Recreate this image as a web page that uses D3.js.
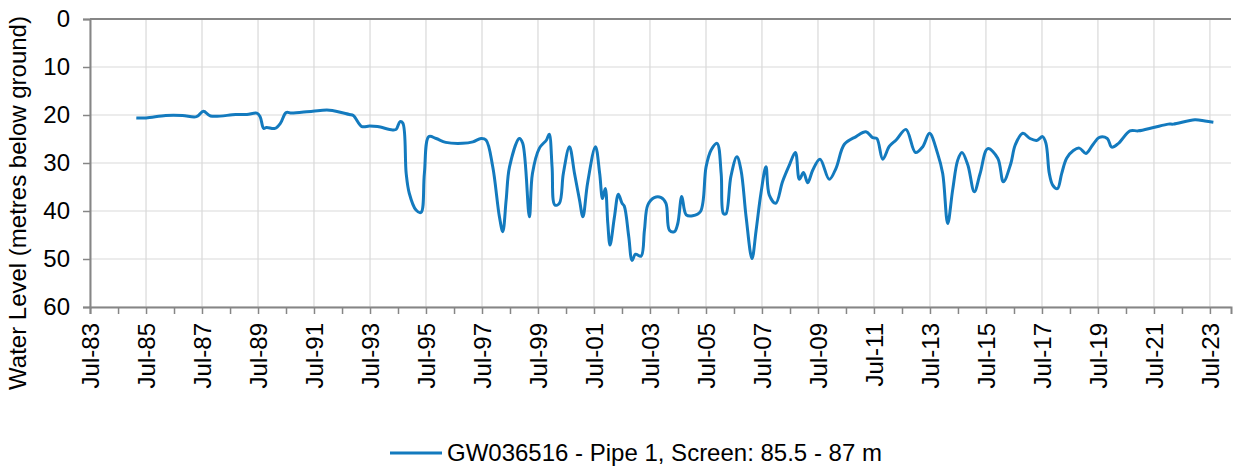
<!DOCTYPE html>
<html>
<head>
<meta charset="utf-8">
<script src="https://cdn.jsdelivr.net/npm/d3@7"></script>
<style>
  body { margin: 0; background: #fff; }
  svg text { font-family: "Liberation Sans", Arial, sans-serif; fill: #000; }
</style>
</head>
<body>
<div id="chart"></div>
<script>
// water level readings (metres below ground)
const dates = [
  "1985-02-24","1985-07-02","1986-03-15","1986-10-20","1987-04-20","1987-07-20","1987-10-20","1988-09-13",
  "1989-02-06","1989-06-14","1989-07-27","1989-09-13","1989-10-20","1990-02-06","1990-04-20","1990-07-02",
  "1990-09-13","1991-06-14","1992-01-19","1992-10-05","1992-11-25","1993-03-17","1993-06-25","1993-10-08",
  "1994-04-20","1994-06-07","1994-07-27","1994-09-02","1994-10-16","1994-11-25","1995-02-21","1995-04-27",
  "1995-06-10","1995-08-08","1995-11-10","1996-03-15","1996-10-20","1997-03-04","1997-06-18","1997-08-22",
  "1997-11-18","1998-02-13","1998-03-29","1998-05-12","1998-06-25","1998-10-31","1998-12-14","1999-03-11",
  "1999-04-20","1999-07-20","1999-10-20","1999-11-25","2000-01-01","2000-02-06","2000-04-05","2000-05-27",
  "2000-08-15","2000-10-20","2000-12-24","2001-02-06","2001-04-08","2001-07-20","2001-09-13","2001-10-20",
  "2001-11-25","2001-12-28","2002-01-26","2002-03-25","2002-05-15","2002-07-02","2002-07-31","2002-09-27",
  "2002-11-10","2002-12-24","2003-03-07","2003-04-20","2003-06-03","2003-08-26","2003-11-25","2004-01-26",
  "2004-03-11","2004-05-15","2004-06-28","2004-08-19","2004-10-16","2005-01-08","2005-04-20","2005-07-02",
  "2005-09-06","2005-11-22","2006-01-15","2006-02-13","2006-03-18","2006-05-22","2006-08-08","2006-10-01",
  "2006-12-06","2007-02-21","2007-04-16","2007-06-18","2007-08-22","2007-10-05","2007-12-28","2008-03-25",
  "2008-06-18","2008-09-09","2008-10-31","2008-12-24","2009-02-17","2009-04-23","2009-07-27","2009-11-25",
  "2010-02-21","2010-06-10","2010-11-10","2011-03-18","2011-06-14","2011-08-08","2011-10-24","2012-01-19",
  "2012-04-16","2012-08-22","2012-12-24","2013-03-29","2013-06-25","2013-10-08","2013-12-14","2014-02-17",
  "2014-04-23","2014-06-28","2014-08-22","2014-11-07","2015-01-30","2015-04-16","2015-07-24","2015-12-02",
  "2016-02-13","2016-05-19","2016-07-17","2016-10-24","2017-01-26","2017-04-23","2017-07-09","2017-08-22",
  "2017-10-05","2017-11-18","2018-01-19","2018-03-15","2018-05-19","2018-08-15","2018-10-31","2019-01-26",
  "2019-04-23","2019-07-20","2019-10-31","2019-12-28","2020-03-25","2020-08-22","2020-12-10","2021-06-25",
  "2022-01-05","2022-03-11","2022-12-17","2023-04-27","2023-08-15"
];
const levels = [
  20.6,20.6,20.1,20.1,20.35,19.2,20.2,19.9,
  19.9,19.6,20.3,22.8,22.6,22.8,21.7,19.5,
  19.6,19.2,19.0,19.9,20.1,22.4,22.3,22.4,
  23.1,23.0,21.4,21.7,32.2,36.3,39.8,40.3,
  32.2,24.5,24.9,25.7,25.9,25.6,24.9,25.2,
  30.8,41.2,44.3,37.7,30.8,24.9,25.9,41.2,
  32.2,26.9,25.2,24.0,30.8,38.75,38.4,32.2,
  26.6,32.2,37.7,41.2,34.2,26.6,32.2,37.4,
  35.3,42.6,47.1,41.2,36.5,38.4,39.0,45.3,
  50.3,49.0,49.4,44.0,38.75,37.2,37.2,38.4,
  44.0,44.3,42.6,37.0,40.8,41.0,40.1,30.8,
  27.3,25.9,32.2,40.5,40.6,32.8,28.7,31.5,
  41.2,49.9,44.0,36.3,30.8,36.7,38.4,33.9,
  30.6,27.8,33.4,32.0,34.1,31.5,29.2,33.4,
  31.1,26.1,24.5,23.5,24.7,24.9,29.2,26.5,
  25.2,23.0,27.8,26.6,23.8,28.0,32.2,42.6,
  35.6,29.4,27.8,30.4,36.0,32.2,27.0,29.0,
  33.9,30.2,26.25,23.8,24.9,25.3,24.5,25.9,
  32.2,34.6,35.35,32.2,29.0,27.4,26.9,28.0,
  26.25,24.65,24.9,26.7,25.9,23.3,23.3,22.6,
  21.9,21.9,21.0,21.25,21.5
];
const yTicks = [0, 10, 20, 30, 40, 50, 60];
const tickYears = d3.range(1983, 2024);          // a tick every July
const labelYears = d3.range(1983, 2024, 2);      // labelled every second July
const seriesName = "GW036516 - Pipe 1, Screen: 85.5 - 87 m";
const yTitle = "Water Level (metres below ground)";

const width = 1234, height = 467;
const plotLeft = 90, plotRight = 1231, plotTop = 19, plotBottom = 307;
const lineColor = "#137abe";
const axisColor = "#868686";
const gridColor = "#d9d9d9";

const parse = d3.timeParse("%Y-%m-%d");
const points = dates.map((d, i) => ({date: parse(d), level: levels[i]}));

const svg = d3.select("#chart").append("svg")
  .attr("width", width).attr("height", height)
  .style("background", "white");

const x = d3.scaleTime()
  .domain([new Date(1983, 6, 1), new Date(2024, 3, 1)])
  .range([plotLeft, plotRight]);
const y = d3.scaleLinear()
  .domain([0, 60])
  .range([plotTop, plotBottom]);

const julyOf = yr => new Date(yr, 6, 1);

// gridlines
svg.append("g").selectAll("line").data(labelYears).enter().append("line")
  .attr("x1", d => x(julyOf(d))).attr("x2", d => x(julyOf(d)))
  .attr("y1", plotTop).attr("y2", plotBottom)
  .attr("stroke", gridColor).attr("stroke-width", 1.2);
svg.append("g").selectAll("line").data(yTicks).enter().append("line")
  .attr("x1", plotLeft).attr("x2", plotRight)
  .attr("y1", d => y(d)).attr("y2", d => y(d))
  .attr("stroke", gridColor).attr("stroke-width", 1.2);

// top border
svg.append("line")
  .attr("x1", plotLeft).attr("x2", plotRight).attr("y1", plotTop).attr("y2", plotTop)
  .attr("stroke", axisColor).attr("stroke-width", 2);

// x axis
const fmt = d3.timeFormat("%b-%y");
const xAxis = d3.axisBottom(x)
  .tickValues(tickYears.map(julyOf))
  .tickSize(7)
  .tickFormat(d => (d.getFullYear() % 2 === 1 ? fmt(d) : ""));
const gx = svg.append("g").attr("transform", `translate(0,${plotBottom})`).call(xAxis);
gx.selectAll("text")
  .attr("font-size", 24)
  .attr("text-anchor", "end")
  .attr("transform", "rotate(-90)")
  .attr("x", -16).attr("y", 0).attr("dy", "0.35em");

// y axis
const yAxis = d3.axisLeft(y).tickValues(yTicks).tickSize(7).tickPadding(13);
const gy = svg.append("g").attr("transform", `translate(${plotLeft},0)`).call(yAxis);
gy.selectAll("text").attr("font-size", 24);

[gx, gy].forEach(g => {
  g.select(".domain").attr("stroke", axisColor).attr("stroke-width", 2);
  g.selectAll(".tick line").attr("stroke", axisColor).attr("stroke-width", 1.5);
});

// y title
svg.append("text")
  .attr("transform", "translate(26,203) rotate(-90)")
  .attr("text-anchor", "middle")
  .attr("font-size", 24)
  .text(yTitle);

// series
const line = d3.line()
  .x(d => x(d.date))
  .y(d => y(d.level))
  .curve(d3.curveCatmullRom.alpha(0.5));

svg.append("path")
  .datum(points)
  .attr("d", line)
  .attr("fill", "none")
  .attr("stroke", lineColor)
  .attr("stroke-width", 3)
  .attr("stroke-linejoin", "round");

// legend
svg.append("line")
  .attr("x1", 390).attr("x2", 442).attr("y1", 453).attr("y2", 453)
  .attr("stroke", lineColor).attr("stroke-width", 3);
svg.append("text")
  .attr("x", 447).attr("y", 461)
  .attr("font-size", 24)
  .text(seriesName);
</script>
</body>
</html>
